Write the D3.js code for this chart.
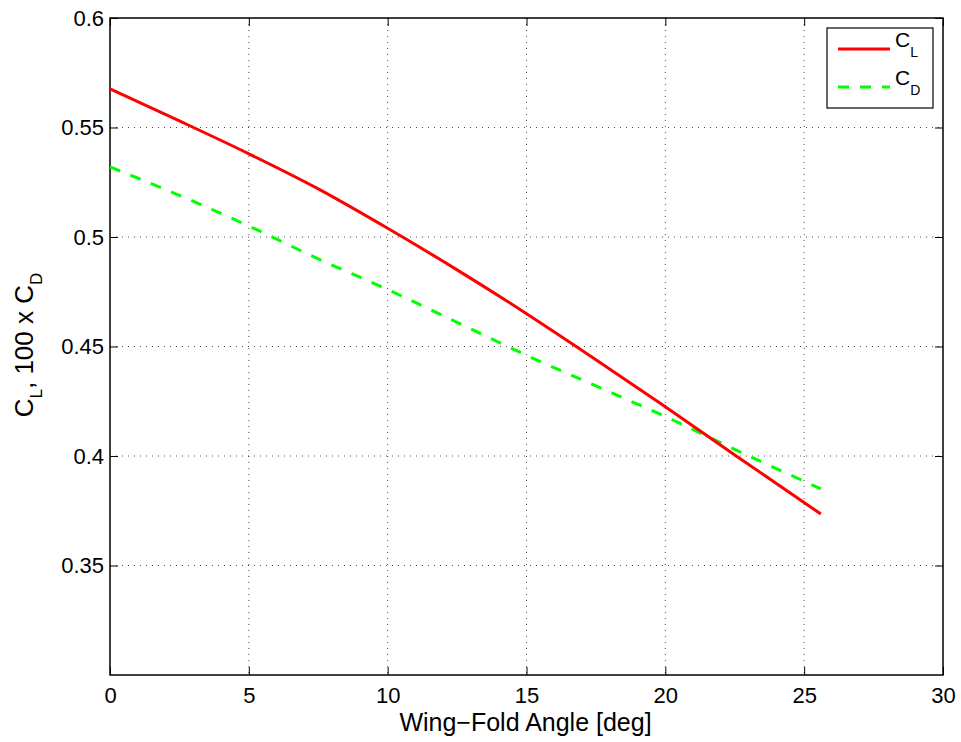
<!DOCTYPE html>
<html>
<head>
<meta charset="utf-8">
<script src="https://cdn.jsdelivr.net/npm/d3@7"></script>
<style>
body { margin: 0; background: #fff; }
text { font-family: "Liberation Sans", Arial, sans-serif; fill: #000; }
.grid line { stroke: #000; stroke-width: 1; stroke-dasharray: 1,5; opacity: 0.7; }
</style>
</head>
<body>
<script>
// data
var angle = [0, 2.5, 5, 7.5, 10, 12.5, 15, 17.5, 20, 22.5, 25.6];
var cl = [0.5676, 0.553, 0.538, 0.522, 0.504, 0.485, 0.465, 0.444, 0.4225, 0.4005, 0.3735];
var cd = [0.532, 0.519, 0.505, 0.490, 0.476, 0.461, 0.446, 0.432, 0.418, 0.403, 0.385];
var xTicks = [0, 5, 10, 15, 20, 25, 30];
var yTicks = [0.35, 0.4, 0.45, 0.5, 0.55, 0.6];
var yGrid = [0.35, 0.4, 0.45, 0.5, 0.55];

var width = 961, height = 742;
var pL = 110, pR = 943, pT = 18, pB = 675;

var svg = d3.select("body").append("svg")
  .attr("width", width).attr("height", height);

var x = d3.scaleLinear().domain([0, 30]).range([pL, pR]);
var y = d3.scaleLinear().domain([0.3, 0.6]).range([pB, pT]);

// grid
var grid = svg.append("g").attr("class", "grid");
grid.selectAll(".gx").data(xTicks.slice(1, -1)).enter().append("line")
  .attr("x1", function(d) { return x(d); }).attr("x2", function(d) { return x(d); })
  .attr("y1", pT).attr("y2", pB);
grid.selectAll(".gy").data(yGrid).enter().append("line")
  .attr("y1", function(d) { return y(d); }).attr("y2", function(d) { return y(d); })
  .attr("x1", pL).attr("x2", pR);

// axes, ticks inside on all four sides
function styleAxis(g) {
  g.select(".domain").remove();
  g.selectAll(".tick line").attr("stroke", "#000");
  g.selectAll("text").style("font-size", "22px").style("font-family", "Liberation Sans, Arial, sans-serif");
}
svg.append("g").attr("transform", "translate(0," + pB + ")")
  .call(d3.axisBottom(x).tickValues(xTicks).tickSizeInner(-8).tickPadding(12).tickFormat(d3.format("d")))
  .call(styleAxis);
svg.append("g").attr("transform", "translate(0," + pT + ")")
  .call(d3.axisTop(x).tickValues(xTicks).tickSizeInner(-8).tickFormat(""))
  .call(styleAxis);
svg.append("g").attr("transform", "translate(" + pL + ",0)")
  .call(d3.axisLeft(y).tickValues(yTicks).tickSizeInner(-8).tickPadding(6).tickFormat(function(d) { return String(+d.toFixed(2)); }))
  .call(styleAxis);
svg.append("g").attr("transform", "translate(" + pR + ",0)")
  .call(d3.axisRight(y).tickValues(yTicks).tickSizeInner(-8).tickFormat(""))
  .call(styleAxis);

svg.append("rect").attr("x", pL).attr("y", pT)
  .attr("width", pR - pL).attr("height", pB - pT)
  .attr("fill", "none").attr("stroke", "#000").attr("stroke-width", 1.5);

// curves
var line = d3.line().x(function(d) { return x(d[0]); }).y(function(d) { return y(d[1]); })
  .curve(d3.curveMonotoneX);
svg.append("path").datum(d3.zip(angle, cd)).attr("d", line)
  .attr("fill", "none").attr("stroke", "#00ff00").attr("stroke-width", 3)
  .attr("stroke-dasharray", "11,11");
svg.append("path").datum(d3.zip(angle, cl)).attr("d", line)
  .attr("fill", "none").attr("stroke", "#ff0000").attr("stroke-width", 3);

// legend
var lg = svg.append("g");
lg.append("rect").attr("x", 827).attr("y", 28).attr("width", 106).attr("height", 80)
  .attr("fill", "#fff").attr("stroke", "#000").attr("stroke-width", 1.2);
var items = [{n: "L", c: "#ff0000", dash: null, y: 49}, {n: "D", c: "#00ff00", dash: "11,11", y: 87}];
items.forEach(function(it) {
  lg.append("line").attr("x1", 838).attr("x2", 890).attr("y1", it.y).attr("y2", it.y)
    .attr("stroke", it.c).attr("stroke-width", 3).attr("stroke-dasharray", it.dash);
  var t = lg.append("text").attr("x", 895).attr("y", it.y - 2.5).style("font-size", "21px");
  t.append("tspan").text("C");
  t.append("tspan").attr("dy", 10.5).style("font-size", "14px").text(it.n);
});

// axis labels
svg.append("text").attr("x", (pL + pR) / 2 - 1).attr("y", 731)
  .attr("text-anchor", "middle").style("font-size", "25px").text("Wing\u2212Fold Angle [deg]");
var yl = svg.append("text").attr("transform", "translate(33,345) rotate(-90)")
  .attr("text-anchor", "middle").style("font-size", "26px");
yl.append("tspan").text("C");
yl.append("tspan").attr("dy", 9).style("font-size", "17px").text("L");
yl.append("tspan").attr("dy", -9).text(", 100 x C");
yl.append("tspan").attr("dy", 9).style("font-size", "17px").text("D");
</script>
</body>
</html>
